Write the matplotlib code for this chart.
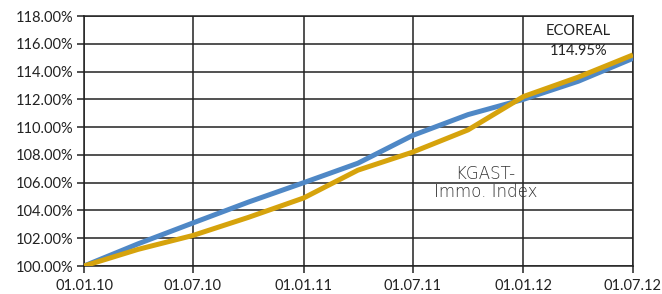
import matplotlib
matplotlib.use('Agg')
import matplotlib.pyplot as plt
import matplotlib.dates as mdates
import matplotlib.ticker as mticker
import pandas as pd

# quarterly index values (%)
quarters = ['2010-01-01', '2010-04-01', '2010-07-01', '2010-10-01', '2011-01-01', '2011-04-01',
            '2011-07-01', '2011-10-01', '2012-01-01', '2012-04-01', '2012-07-01']
ecoreal = [100.0, 101.6, 103.1, 104.6, 106.0, 107.4, 109.4, 110.9, 112.0, 113.3, 114.95]
kgast = [100.0, 101.2, 102.2, 103.5, 104.9, 106.9, 108.2, 109.8, 112.2, 113.6, 115.2]
tick_dates = ['2010-01-01', '2010-07-01', '2011-01-01', '2011-07-01', '2012-01-01', '2012-07-01']

dates = pd.to_datetime(quarters)
ticks = pd.to_datetime(tick_dates)

plt.rcParams['font.family'] = ['Lato', 'DejaVu Sans']

fig = plt.figure(figsize=(6.62, 2.94), dpi=100)
ax = fig.add_axes([84/662, 1-266/294, (633-84)/662, (266-16)/294])

ax.plot(dates, ecoreal, color='#4F88C6', linewidth=3.6, solid_capstyle='butt', zorder=3)
ax.plot(dates, kgast, color='#D6A30C', linewidth=3.6, solid_capstyle='butt', zorder=3)

ax.set_xlim(ticks[0], ticks[-1])
ax.set_ylim(100, 118)
ax.set_xticks(ticks)
ax.xaxis.set_major_formatter(mdates.DateFormatter('%d.%m.%y'))
ax.set_yticks(range(100, 119, 2))
ax.yaxis.set_major_formatter(mticker.FuncFormatter(lambda v, p: '%.2f%%' % v))

ax.grid(True, color='#222222', linewidth=1.1)
ax.set_axisbelow(True)
for s in ax.spines.values():
    s.set_color('#222222')
    s.set_linewidth(1.1)
ax.tick_params(axis='both', length=5, width=1.1, color='#222222', labelsize=10.5,
               labelcolor='#222222', direction='out')
ax.tick_params(axis='x', pad=4)
ax.tick_params(axis='y', pad=3)

ax.text(pd.Timestamp('2012-04-01'), 116.95, 'ECOREAL', ha='center', va='center',
        fontsize=10.5, color='#222222')
ax.text(pd.Timestamp('2012-04-01'), 115.5, '114.95%', ha='center', va='center',
        fontsize=10.5, color='#222222')
ax.text(pd.Timestamp('2011-10-30'), 106.65, 'KGAST-', ha='center', va='center',
        fontsize=12, color='#333333', family=['DejaVu Sans'], fontweight='light')
ax.text(pd.Timestamp('2011-10-30'), 105.35, 'Immo. Index', ha='center', va='center',
        fontsize=12, color='#333333', family=['DejaVu Sans'], fontweight='light')

fig.savefig('out.png', dpi=100)
